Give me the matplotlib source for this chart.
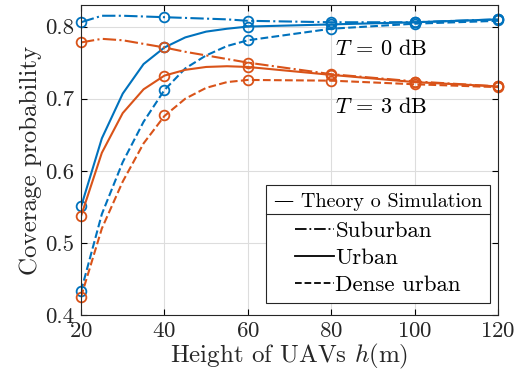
import matplotlib
matplotlib.use('Agg')
import matplotlib.pyplot as plt
from matplotlib.lines import Line2D

plt.rcParams['font.family'] = 'serif'
plt.rcParams['font.serif'] = ['cmr10', 'DejaVu Serif']
plt.rcParams['mathtext.fontset'] = 'cm'
plt.rcParams['axes.formatter.use_mathtext'] = True

# theory curves (step 5 up to 60, then 20)
h_th = [20, 25, 30, 35, 40, 45, 50, 55, 60, 80, 100, 120]
# simulation points
h_sim = [20, 40, 60, 80, 100, 120]

# T = 0 dB
sub0_th = [0.806, 0.815, 0.815, 0.814, 0.813, 0.812, 0.811, 0.810, 0.808, 0.806, 0.806, 0.810]
urb0_th = [0.550, 0.645, 0.707, 0.748, 0.771, 0.785, 0.793, 0.797, 0.800, 0.803, 0.806, 0.810]
den0_th = [0.433, 0.540, 0.612, 0.668, 0.712, 0.742, 0.760, 0.773, 0.781, 0.797, 0.804, 0.808]
sub0_sim = [0.806, 0.813, 0.808, 0.806, 0.806, 0.811]
urb0_sim = [0.551, 0.771, 0.800, 0.803, 0.806, 0.810]
den0_sim = [0.433, 0.712, 0.781, 0.797, 0.804, 0.809]

# T = 3 dB
sub3_th = [0.778, 0.783, 0.781, 0.776, 0.771, 0.765, 0.760, 0.755, 0.750, 0.734, 0.724, 0.717]
urb3_th = [0.537, 0.625, 0.680, 0.713, 0.732, 0.740, 0.744, 0.745, 0.744, 0.733, 0.723, 0.717]
den3_th = [0.425, 0.520, 0.585, 0.638, 0.676, 0.700, 0.715, 0.723, 0.726, 0.725, 0.720, 0.716]
sub3_sim = [0.778, 0.771, 0.750, 0.734, 0.723, 0.717]
urb3_sim = [0.537, 0.732, 0.744, 0.733, 0.723, 0.717]
den3_sim = [0.425, 0.677, 0.726, 0.725, 0.721, 0.716]

blue = '#0072BD'
orange = '#D95319'

fig = plt.figure(figsize=(5.26, 3.8), dpi=100)
ax = fig.add_axes([0.154, 0.171, 0.793, 0.816])

series = [
    (sub0_th, sub0_sim, blue, '-.'),
    (urb0_th, urb0_sim, blue, '-'),
    (den0_th, den0_sim, blue, '--'),
    (sub3_th, sub3_sim, orange, '-.'),
    (urb3_th, urb3_sim, orange, '-'),
    (den3_th, den3_sim, orange, '--'),
]
for th, sim, c, ls in series:
    ax.plot(h_th, th, color=c, linestyle=ls, linewidth=1.5)
    ax.plot(h_sim, sim, linestyle='none', marker='o', markersize=7,
            markerfacecolor='none', markeredgecolor=c, markeredgewidth=1.3,
            clip_on=False)

ax.set_xlim(20, 120)
ax.set_ylim(0.4, 0.83)
ax.set_xticks([20, 40, 60, 80, 100, 120])
ax.set_yticks([0.4, 0.5, 0.6, 0.7, 0.8])
ax.set_yticklabels(['0.4', '0.5', '0.6', '0.7', '0.8'])
ax.grid(True, color='#dddddd', linewidth=0.8)
ax.set_axisbelow(True)
ax.tick_params(direction='in', labelsize=16.5, top=True, right=True, length=4,
               pad=5, labelcolor='#262626')
for s in ax.spines.values():
    s.set_color('#262626')
    s.set_linewidth(0.8)

ax.set_xlabel('Height of UAVs $h$(m)', fontsize=18, labelpad=0, color='#262626')
ax.set_ylabel('Coverage probability', fontsize=18, labelpad=2, color='#262626')

ax.text(80.8, 0.760, '$T$ = 0 dB', fontsize=16)
ax.text(80.8, 0.680, '$T$ = 3 dB', fontsize=16)

handles = [Line2D([], [], color='k', linestyle='-.', linewidth=1.3),
           Line2D([], [], color='k', linestyle='-', linewidth=1.3),
           Line2D([], [], color='k', linestyle='--', linewidth=1.3)]
leg = ax.legend(handles, ['Suburban', 'Urban', 'Dense urban'],
                title='\u2014 Theory o Simulation',
                title_fontproperties={'family': ['cmr10', 'DejaVu Serif'], 'size': 14.5},
                fontsize=16.5, loc='lower right', bbox_to_anchor=(0.981, 0.039),
                fancybox=False, edgecolor='#262626', framealpha=1,
                handlelength=1.7, handletextpad=0.05, labelspacing=0.3,
                borderpad=0.35, alignment='center', borderaxespad=0)
leg.get_frame().set_linewidth(0.8)
leg._legend_box.sep = 7

fig.canvas.draw()
tb = leg.get_title().get_window_extent()
fb = leg.get_frame().get_window_extent()
inv = fig.transFigure.inverted()
(x0, y0) = inv.transform((fb.x0, tb.y0 - 3))
(x1, _) = inv.transform((fb.x1, tb.y0 - 3))
fig.add_artist(Line2D([x0, x1], [y0, y0], color='#262626', linewidth=0.8,
                      transform=fig.transFigure))

fig.savefig('out.png', dpi=100)
